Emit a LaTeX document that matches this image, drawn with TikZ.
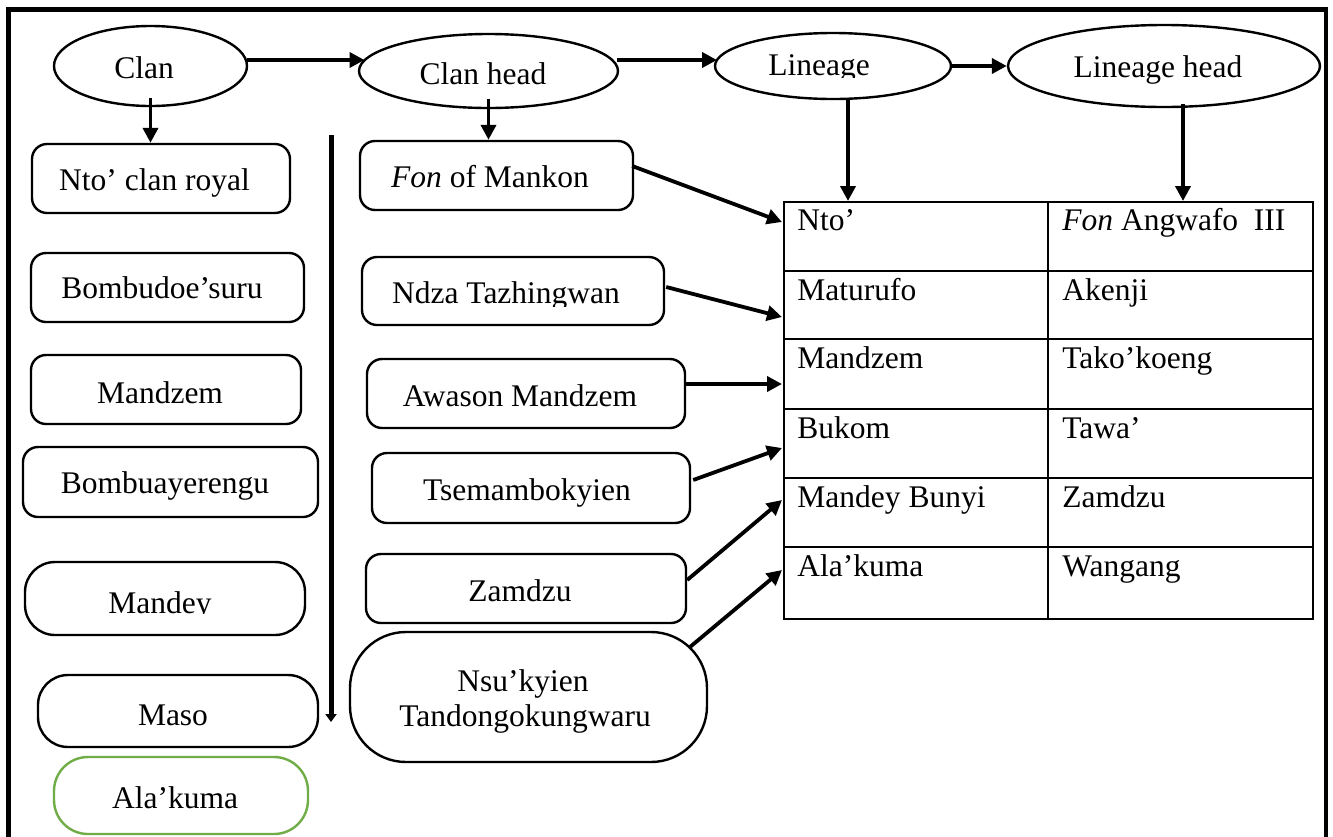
\documentclass[tikz,border=0pt]{standalone}
\usepackage{fontspec}
\setmainfont{Liberation Serif}
\usetikzlibrary{arrows.meta,shapes.geometric,calc}
\definecolor{boxgreen}{HTML}{70AD47}
\def\pxu{0.5pt}
\begin{document}
\begin{tikzpicture}[x=0.5pt,y=-0.5pt,
  font=\fontsize{15.75}{19}\selectfont,
  ell/.style={draw, ellipse, line width=1.2pt, inner sep=0pt},
  rbox/.style={draw, rectangle, rounded corners=7.5pt, line width=1.2pt, inner sep=0pt},
  txt/.style={anchor=base, inner sep=0pt},
  celltxt/.style={anchor=base west, inner sep=0pt},
  arr/.style={line width=1.9pt, -{Triangle[length=7.5pt,width=7.5pt]}},
  divarr/.style={line width=2.5pt, -{Triangle[length=4pt,width=5.5pt]}},
  grid/.style={line width=1.2pt}]
\useasboundingbox (0,0) rectangle (1333,836);
\fill[white] (0,0) rectangle (1333,836);
\clip (0,0) rectangle (1333,836);
% outer frame (bottom edge lies below the picture)
\draw[line width=2.2pt] (8.5,900) -- (8.5,9.5) -- (1326,9.5) -- (1326,900);

% ellipses
\node[ell, minimum width=193*\pxu, minimum height=80*\pxu] (clan) at (150.5,66) {};
\node[ell, minimum width=259*\pxu, minimum height=74*\pxu] (clanhead) at (488.5,71) {};
\node[ell, minimum width=236*\pxu, minimum height=66*\pxu] (lineage) at (833,66) {};
\node[ell, minimum width=312*\pxu, minimum height=82*\pxu] (lineagehead) at (1164,66) {};
\node[txt] (tclan) at (144,78) {Clan};
\node[txt] (tclanhead) at (483,84) {Clan head};
\begin{scope}
\clip (700,20) rectangle (960,77);
\node[txt] (tlineage) at (819,75) {Lineage};
\end{scope}
\node[txt] (tlineagehead) at (1158,77) {Lineage head};

% left column boxes
\node[rbox, minimum width=258*\pxu, minimum height=69*\pxu] (nto) at (161,178.5) {};
\node[txt] (tnto) at (154.5,190) {Nto’ clan royal};
\node[rbox, minimum width=273*\pxu, minimum height=69*\pxu] (bombud) at (167.5,287.5) {};
\node[txt] (tbombud) at (162,298) {Bombudoe’suru};
\node[rbox, minimum width=270*\pxu, minimum height=69*\pxu] (mandzem) at (166,389.5) {};
\node[txt] (tmandzem) at (160,403) {Mandzem};
\node[rbox, minimum width=295*\pxu, minimum height=70*\pxu] (bombuay) at (170.5,482) {};
\node[txt] (tbombuay) at (165,493) {Bombuayerengu};
\node[rbox, rounded corners=15pt, minimum width=280*\pxu, minimum height=73*\pxu] (mandey) at (165,598.5) {};
\begin{scope}
\clip (30,560) rectangle (300,613);
\node[txt] (tmandey) at (160,613) {Mandey};
\end{scope}
\node[rbox, rounded corners=15pt, minimum width=280*\pxu, minimum height=72*\pxu] (maso) at (178,711) {};
\node[txt] (tmaso) at (173,725) {Maso};
\node[rbox, rounded corners=17pt, draw=boxgreen, minimum width=254*\pxu, minimum height=77*\pxu] (alakuma) at (181,795.5) {};
\node[txt] (talakuma) at (175,808) {Ala’kuma};

% divider arrow
\coordinate (divtop) at (331,135);
\coordinate (divbot) at (331,722);
\draw[divarr] (divtop) -- (divbot);

% middle column boxes
\node[rbox, minimum width=273*\pxu, minimum height=69*\pxu] (fon) at (496.5,175.5) {};
\node[txt] (tfon) at (490,187) {\textit{Fon} of Mankon};
\node[rbox, minimum width=302*\pxu, minimum height=68*\pxu] (ndza) at (513,291) {};
\begin{scope}
\clip (365,250) rectangle (660,306);
\node[txt] (tndza) at (506,303) {Ndza Tazhingwan};
\end{scope}
\node[rbox, minimum width=318*\pxu, minimum height=69*\pxu] (awason) at (526,393.5) {};
\node[txt] (tawason) at (520,406) {Awason Mandzem};
\node[rbox, minimum width=318*\pxu, minimum height=70*\pxu] (tsema) at (531,488) {};
\node[txt] (ttsema) at (527,500) {Tsemambokyien};
\node[rbox, minimum width=320*\pxu, minimum height=69*\pxu] (zamdzu) at (526,588.5) {};
\node[txt] (tzamdzu) at (520,601) {Zamdzu};
\node[rbox, rounded corners=28pt, minimum width=357*\pxu, minimum height=130*\pxu] (nsu) at (528.5,697) {};
\node[txt] (tnsu1) at (523,691) {Nsu’kyien};
\node[txt] (tnsu2) at (525,726) {Tandongokungwaru};

% table
\node[draw, line width=1.2pt, rectangle, inner sep=0pt, anchor=north west,
      minimum width=529*\pxu, minimum height=417*\pxu] (table) at (783,201) {};
\draw[grid] (1048,201) -- (1048,618);
\foreach \yy in {271,339,409,478,547} \draw[grid] (783,\yy) -- (1312,\yy);
\node[celltxt] (a1) at (797,230) {Nto’};
\node[celltxt] (b1) at (1062,230) {\textit{Fon} Angwafo\ \ III};
\node[celltxt] (a2) at (797,300) {Maturufo};
\node[celltxt] (b2) at (1062,300) {Akenji};
\node[celltxt] (a3) at (797,368) {Mandzem};
\node[celltxt] (b3) at (1062,368) {Tako’koeng};
\node[celltxt] (a4) at (797,438) {Bukom};
\node[celltxt] (b4) at (1062,438) {Tawa’};
\node[celltxt] (a5) at (797,507) {Mandey Bunyi};
\node[celltxt] (b5) at (1062,507) {Zamdzu};
\node[celltxt] (a6) at (797,576) {Ala’kuma};
\node[celltxt] (b6) at (1062,576) {Wangang};

% arrows along top
\draw[arr] ($(clan.center)+(96.5,-6)$) -- ($(clanhead.center)+(-124,-11)$);
\draw[arr] ($(clanhead.center)+(128,-11)$) -- ($(lineage.center)+(-116,-6)$);
\draw[arr] (lineage.east) -- (lineagehead.west);
% arrows down
\draw[arr] ($(clan.center)+(0,32)$) -- (clan.center |- nto.north);
\draw[arr] ($(clanhead.center)+(0,28)$) -- (clanhead.center |- fon.north);
\coordinate (lstart) at ($(lineage.south)+(15,0)$);
\coordinate (lhstart) at ($(lineagehead.south)+(19,-4)$);
\draw[arr] (lstart) -- (lstart |- table.north);
\draw[arr] (lhstart) -- (lhstart |- table.north);
% arrows into the table
\draw[arr] ($(fon.east)+(-2,-9.5)$) -- ($(table.north west)+(-1,21)$);
\draw[arr] ($(ndza.east)+(1,-4)$) -- ($(table.north west)+(-1,116)$);
\draw[arr] ($(awason.east)+(-2,-9.5)$) -- ($(table.north west)+(-1,183)$);
\draw[arr] ($(tsema.east)+(2,-8)$) -- ($(table.north west)+(-1,247)$);
\draw[arr] ($(zamdzu.east)+(0,-8.5)$) -- ($(table.north west)+(-1,299)$);
\draw[arr] ($(nsu.north east)+(-18,16)$) -- ($(table.north west)+(-1,369)$);
\end{tikzpicture}
\end{document}
